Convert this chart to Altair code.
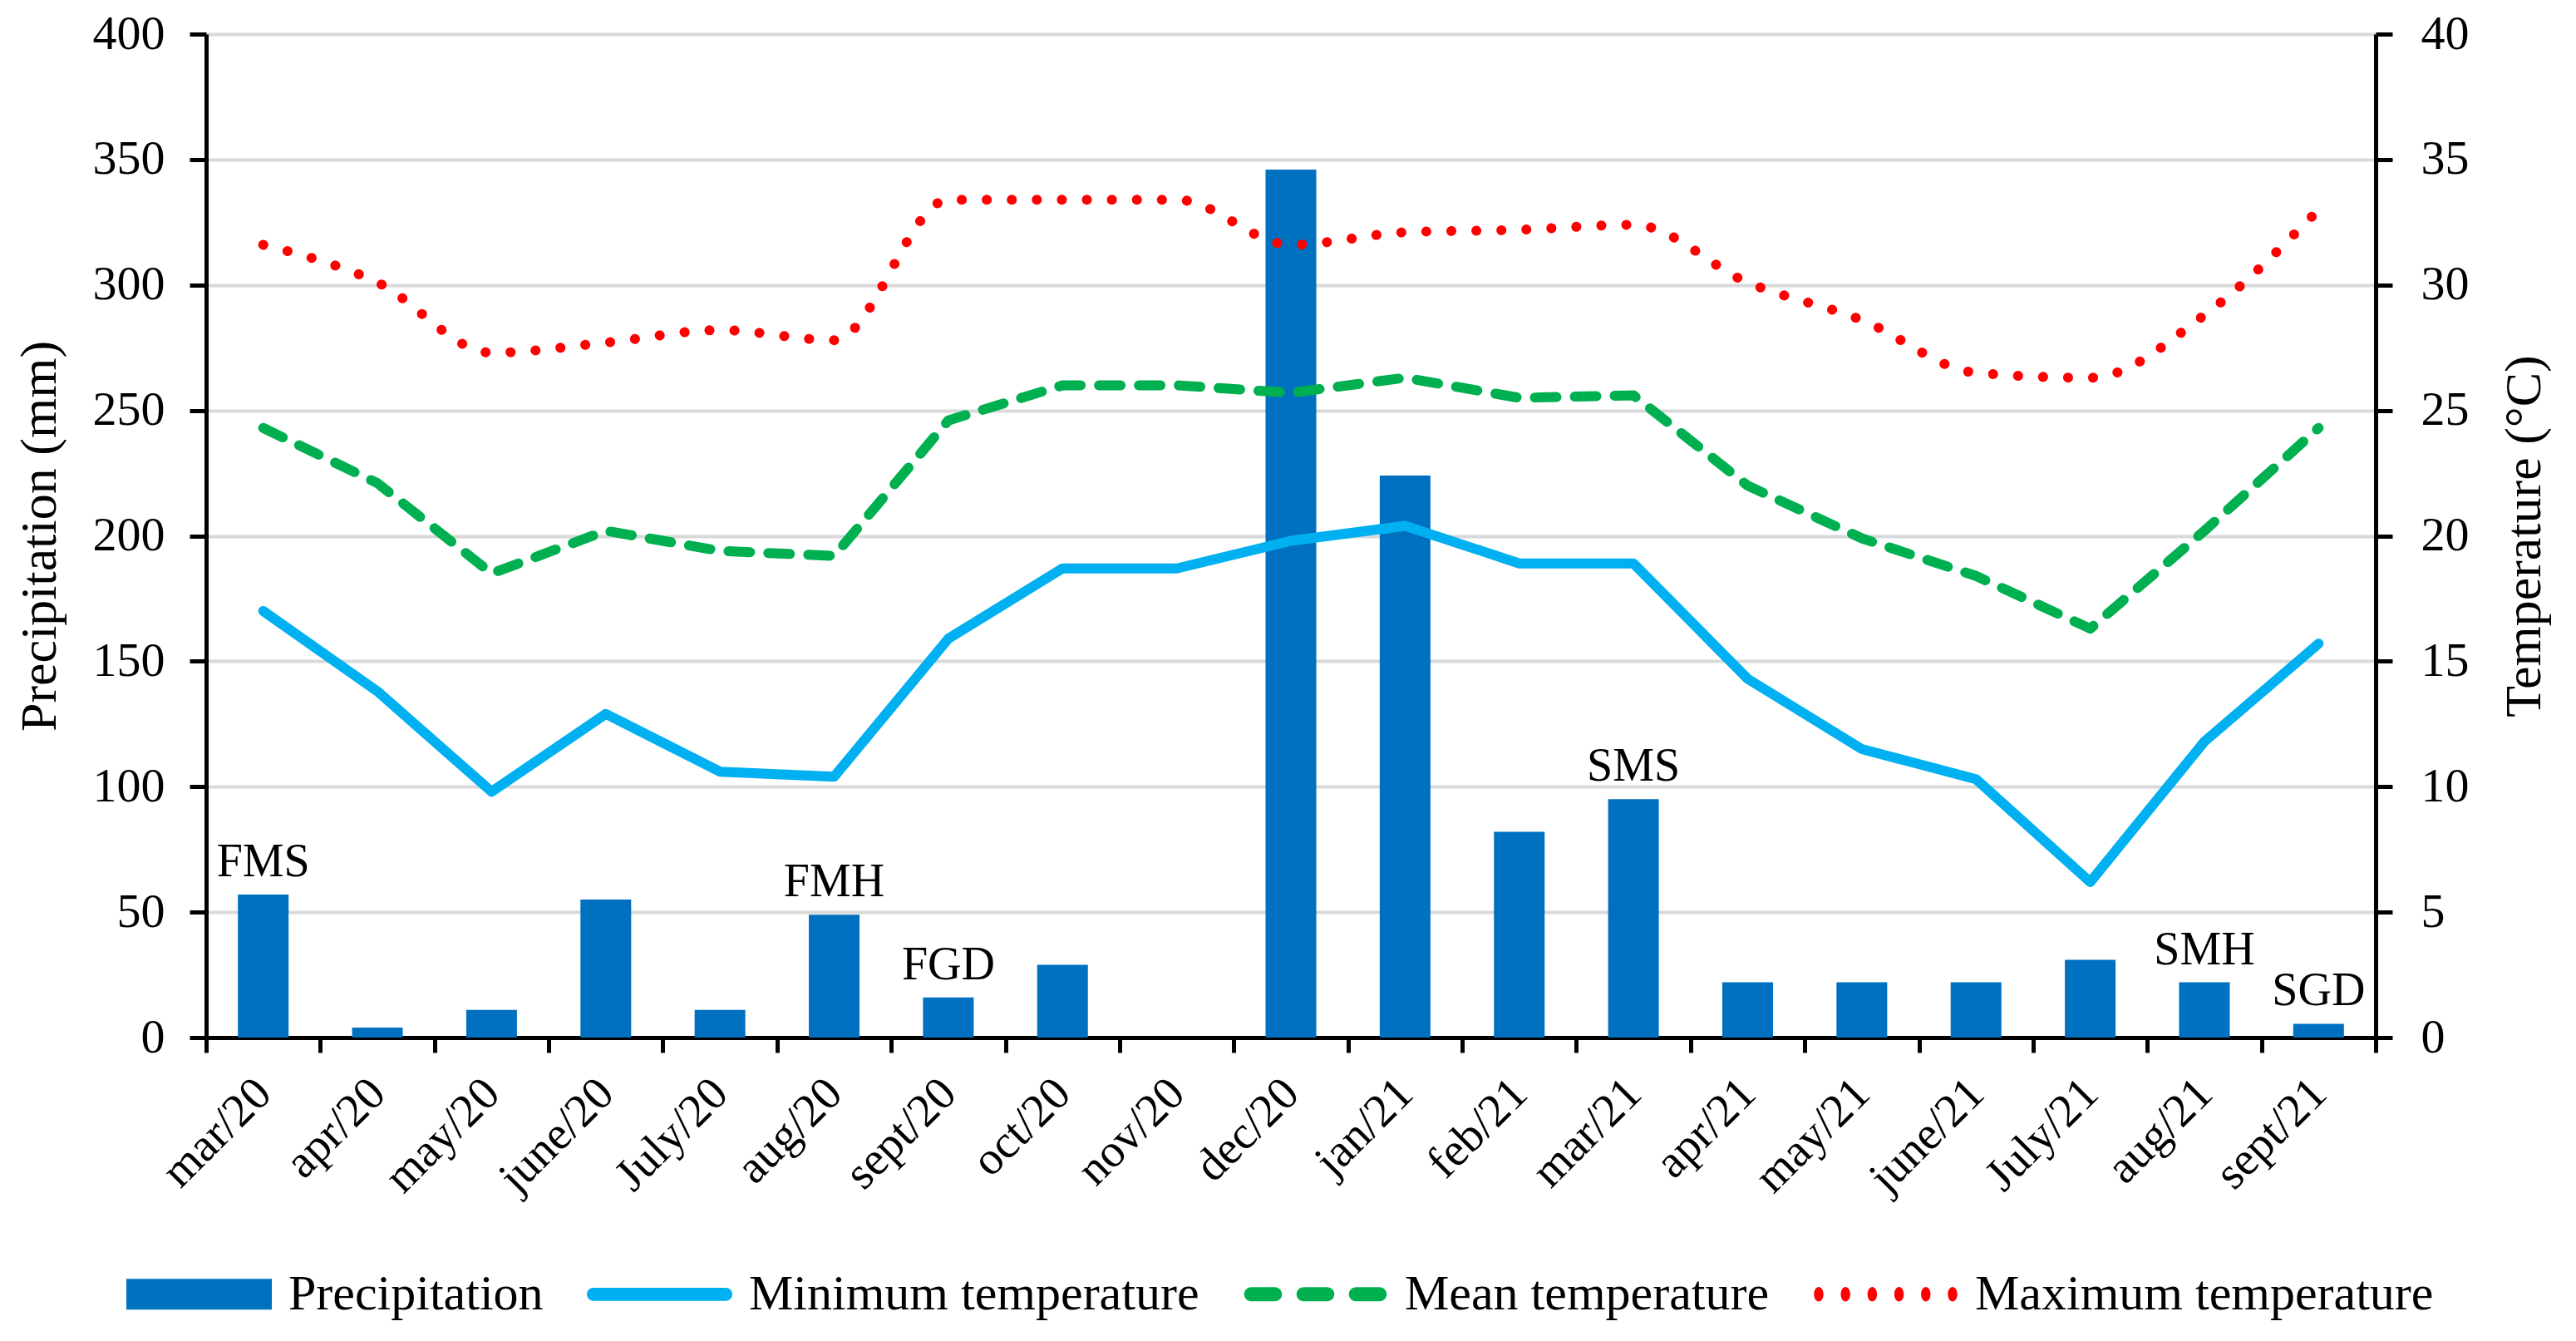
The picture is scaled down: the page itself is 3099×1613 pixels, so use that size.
import altair as alt
import pandas as pd

# monthly values
months = ["mar/20", "apr/20", "may/20", "june/20", "July/20", "aug/20", "sept/20",
          "oct/20", "nov/20", "dec/20", "jan/21", "feb/21", "mar/21", "apr/21",
          "may/21", "june/21", "July/21", "aug/21", "sept/21"]
precipitation = [57, 4, 11, 55, 11, 49, 16, 29, 0, 346, 224, 82, 95, 22, 22, 22, 31, 22, 5.5]
temp_min = [17.0, 13.8, 9.8, 12.9, 10.6, 10.4, 15.9, 18.7, 18.7, 19.8, 20.4, 18.9, 18.9,
            14.3, 11.5, 10.3, 6.2, 11.8, 15.7]
temp_mean = [24.3, 22.1, 18.5, 20.2, 19.4, 19.2, 24.6, 26.0, 26.0, 25.7, 26.3, 25.5, 25.6,
             22.0, 19.9, 18.4, 16.3, 20.2, 24.3]
temp_max = [31.6, 30.1, 27.3, 27.7, 28.2, 27.8, 33.4, 33.4, 33.4, 31.6, 32.1, 32.2, 32.4,
            30.1, 28.6, 26.5, 26.3, 28.8, 33.0]
stage_labels = ["FMS", "", "", "", "", "FMH", "FGD", "", "", "", "", "", "SMS",
                "", "", "", "", "SMH", "SGD"]

series_names = ["Precipitation", "Minimum temperature", "Mean temperature", "Maximum temperature"]
series_colors = ["#0070C0", "#00B0F0", "#00B050", "#FF0000"]

FONT = "Liberation Serif"


def pill(x0, x1, h):
    # rounded dash as an svg sub-path, unit box [-1, 1]
    r = h
    return (f"M{x0 + r:.3f},{-h:.3f}H{x1 - r:.3f}A{r:.3f},{r:.3f} 0 0 1 {x1 - r:.3f},{h:.3f}"
            f"H{x0 + r:.3f}A{r:.3f},{r:.3f} 0 0 1 {x0 + r:.3f},{-h:.3f}Z")


def dot(cx, rx, ry):
    return (f"M{cx - rx:.3f},0A{rx:.3f},{ry:.3f} 0 1 0 {cx + rx:.3f},0"
            f"A{rx:.3f},{ry:.3f} 0 1 0 {cx - rx:.3f},0Z")


# legend glyphs (bar block, solid line, dashes, dots)
legend_shapes = [
    "M-1,-0.211H1V0.211H-1Z",
    pill(-1, 1, 0.09),
    " ".join(pill(a, a + 0.52, 0.097) for a in [-0.98, -0.26, 0.46]),
    " ".join(dot(c, 0.065, 0.1) for c in [-0.92, -0.552, -0.184, 0.184, 0.552, 0.92]),
]

df_rain = pd.DataFrame({"month": months, "precip": precipitation, "stage": stage_labels})
df_temp = pd.DataFrame({
    "month": months,
    "tmin": temp_min,
    "tmean": temp_mean,
    "tmax": temp_max,
})
df_series = pd.DataFrame({"series": series_names})

x_enc = alt.X("month:N", sort=months, title=None,
              scale=alt.Scale(paddingInner=0, paddingOuter=0),
              axis=alt.Axis(labelAngle=315, labelBaseline="middle", labelFontSize=56,
                            tickBand="extent", tickSize=18, labelPadding=40, grid=False))

y_left = alt.Y("precip:Q", title="Precipitation (mm)",
               scale=alt.Scale(domain=[0, 400]),
               axis=alt.Axis(values=list(range(0, 401, 50)), grid=True,
                             gridColor="#D9D9D9", gridWidth=4,
                             tickSize=20, labelPadding=30, titlePadding=32))

right_axis = alt.Axis(orient="right", values=list(range(0, 41, 5)), grid=False,
                      tickSize=20, labelPadding=34, titlePadding=36,
                      titleAngle=270, titleBaseline="top")


def y_temp(field):
    return alt.Y(f"{field}:Q", title="Temperature (°C)",
                 scale=alt.Scale(domain=[0, 40]), axis=right_axis)


# bars + stage labels on the precipitation axis
bars = alt.Chart(df_rain).mark_bar(size=61, color="#0070C0").encode(x=x_enc, y=y_left)
stages = alt.Chart(df_rain).mark_text(baseline="bottom", dy=-10, fontSize=56,
                                      font=FONT, color="black").encode(
    x=x_enc, y=y_left, text="stage:N")
rain = alt.layer(bars, stages)

# temperature lines on the right axis
line_min = alt.Chart(df_temp).mark_line(
    color="#00B0F0", strokeWidth=12, strokeCap="round", strokeJoin="round"
).encode(x=x_enc, y=y_temp("tmin"))
line_mean = alt.Chart(df_temp).mark_line(
    color="#00B050", strokeWidth=12, strokeCap="round", strokeJoin="round",
    strokeDash=[26, 22]
).encode(x=x_enc, y=y_temp("tmean"))
line_max = alt.Chart(df_temp).mark_line(
    color="#FF0000", strokeWidth=12, strokeCap="round", strokeDash=[0.1, 30],
    interpolate="monotone"
).encode(x=x_enc, y=y_temp("tmax"))
temps = alt.layer(line_min, line_mean, line_max)

# legend only: no rows are drawn, the explicit domain gives the entries
legend = alt.Legend(
    orient="none", legendX=-96, legendY=1428, direction="horizontal", columns=4,
    symbolSize=30625, symbolStrokeWidth=0, columnPadding=52, labelOffset=20,
    labelFontSize=60, labelFont=FONT, labelColor="black", labelLimit=1000, padding=0,
)
key = alt.Chart(df_series).mark_point(filled=True, opacity=1).encode(
    color=alt.Color("series:N", title=None,
                    scale=alt.Scale(domain=series_names, range=series_colors),
                    legend=legend),
    shape=alt.Shape("series:N", title=None,
                    scale=alt.Scale(domain=series_names, range=legend_shapes),
                    legend=legend),
).transform_filter(alt.datum.series == "none")

chart = alt.layer(rain, temps, key).resolve_scale(y="independent").properties(
    width=2610, height=1207,
    autosize=alt.AutoSizeParams(type="none"),
    padding={"left": 240, "top": 33, "right": 220, "bottom": 350},
).configure_axis(
    labelFont=FONT, titleFont=FONT, labelFontSize=58, titleFontSize=62,
    titleFontWeight="normal", labelColor="black", titleColor="black",
    domainColor="black", tickColor="black", domainWidth=5, tickWidth=5,
).configure_view(stroke=None)

chart.save("out.html", embed_options={"renderer": "svg", "actions": False})
